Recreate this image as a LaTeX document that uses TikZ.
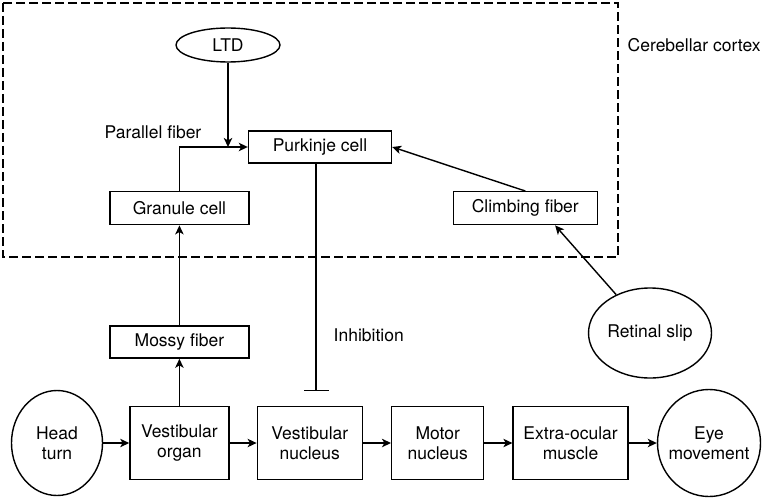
\documentclass[tikz,border=0pt]{standalone}
\usepackage{fontspec}
\setmainfont{TeX Gyre Heros}
\usetikzlibrary{positioning,shapes.geometric,arrows.meta}

\begin{document}
\begin{tikzpicture}[x=0.5pt,y=-0.5pt,line width=0.7pt,
    font=\fontsize{8.75}{10}\selectfont,
    block/.style={draw, rectangle, align=center, inner sep=0pt},
    thin block/.style={block, minimum height=16pt},
    tall block/.style={block, minimum height=36.5pt},
    bubble/.style={draw, ellipse, align=center, inner sep=0pt},
    label text/.style={inner sep=0pt},
    link/.style={-{Stealth[length=4.5pt,width=4.2pt,inset=1.2pt]}},
    inhibit/.style={-{Bar[width=12.5pt]}}]
    \useasboundingbox (0,0) rectangle (763,497);

    \node[bubble, minimum width=45.5pt, minimum height=52.5pt] (ht) at (57,443) {Head\\turn};
    \node[tall block, minimum width=49.5pt, right=13pt of ht] (vo) {Vestibular\\organ};
    \node[tall block, minimum width=52.5pt, right=13.5pt of vo] (vn) {Vestibular\\nucleus};
    \node[tall block, minimum width=46pt, right=14pt of vn] (mn) {Motor\\nucleus};
    \node[tall block, minimum width=57.5pt, right=14pt of mn] (eo) {Extra-ocular\\muscle};
    \node[bubble, inner xsep=-3pt, minimum width=51.5pt, minimum height=53.5pt, right=14pt of eo] (em) {Eye\\movement};

    \node[thin block, minimum width=69.5pt, above=23.5pt of vo] (mf) {Mossy fiber};
    \node[thin block, minimum width=69.5pt, minimum height=16.5pt, above=50pt of mf] (gc) {Granule cell};
    \node[thin block, minimum width=72pt, minimum height=16.5pt, right=101.5pt of gc] (cf) {Climbing fiber};
    \node[thin block, minimum width=71.5pt] (pc) at (320,147) {Purkinje cell};
    \node[bubble, minimum width=52pt, minimum height=17pt] (ltd) at (228,45) {LTD};
    \node[bubble, minimum width=61.5pt, minimum height=45pt] (rs) at (650,333) {Retinal slip};

    \node[label text] (pf) at (153,132) {Parallel fiber};
    \node[label text, anchor=west] (inl) at (333,335) {Inhibition};
    \node[label text, anchor=west] (cc) at (627,45) {Cerebellar cortex};
    \coordinate (inh) at (316,391);

    \draw[dash pattern=on 4.5pt off 2pt] (3,3) rectangle (618,257);

    \draw[link] (ht) -- (vo);
    \draw[link] (vo) -- (vn);
    \draw[link] (vn) -- (mn);
    \draw[link] (mn) -- (eo);
    \draw[link] (eo) -- (em);
    \draw[link] (vo) -- (mf);
    \draw[link] (mf) -- (gc);
    \draw[link] (gc.north) |- (pc.west);
    \draw[link] (ltd.south) -- (ltd.south |- pc.west);
    \draw[link] (cf.north) -- (pc.east);
    \draw[link] (rs) -- (cf.-30);
    \draw[inhibit] (pc.south -| inh) -- (inh);
\end{tikzpicture}
\end{document}
